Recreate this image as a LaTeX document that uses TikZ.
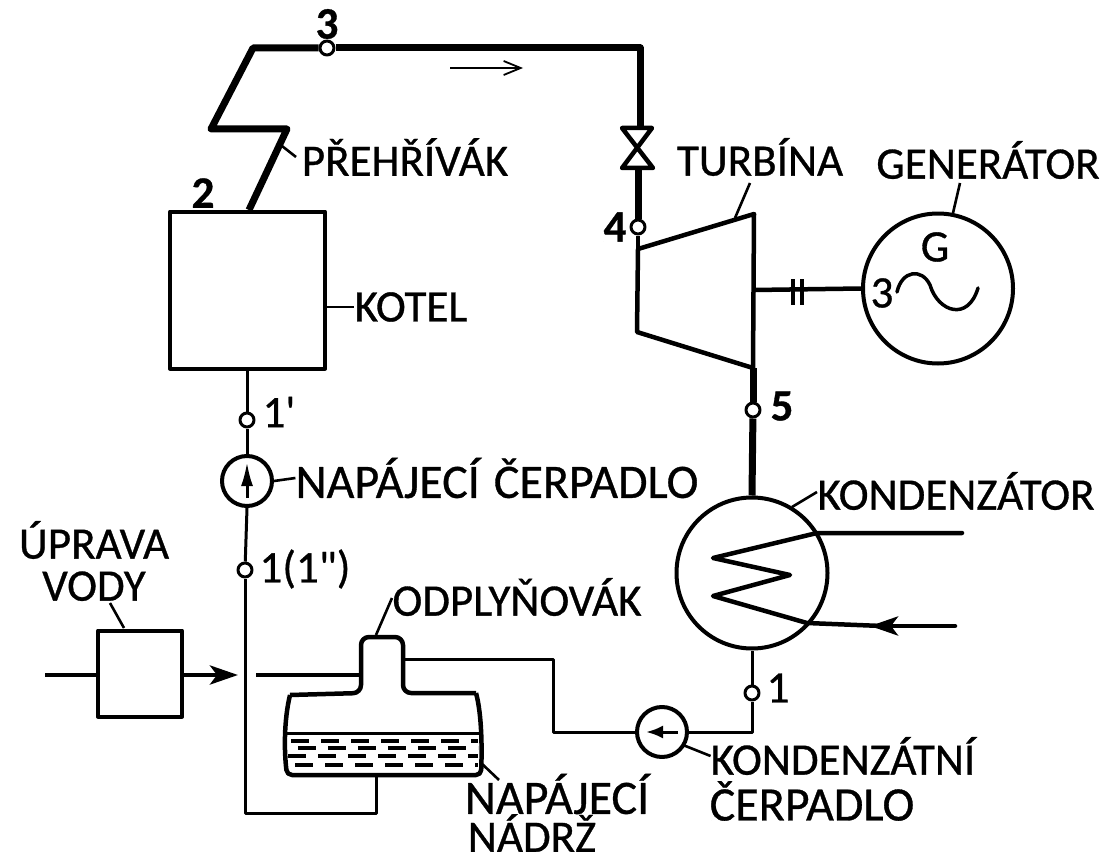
\documentclass[tikz,border=0pt]{standalone}
\usepackage{fontspec}
\setmainfont{Carlito}[FakeBold=0.7]
\usetikzlibrary{arrows.meta,calc}

\begin{document}
\begin{tikzpicture}[x=1pt,y=-1pt,line join=round,
  font=\fontsize{45}{50}\selectfont,
  lb/.style={inner sep=0pt},
  lg/.style={inner sep=0pt,font=\fontsize{48}{50}\selectfont},
  nr/.style={inner sep=0pt,font=\fontsize{45}{50}\selectfont\bfseries},
  tn/.style={line width=3pt},
  md/.style={line width=4.5pt},
  hv/.style={line width=7pt},
  ld/.style={line width=2.6pt},
  pt/.style={draw,circle,fill=white,line width=3pt,minimum size=14pt,inner sep=0pt},
  bx/.style={draw,rectangle,line width=4pt,inner sep=0pt},
  rd/.style={draw,circle,line width=4pt,inner sep=0pt},
  ah/.style={-{Stealth[length=28pt,width=19pt,inset=7pt]}},
  wt/.style={line width=3.2pt,dash pattern=on 18pt off 12pt}]
\useasboundingbox (0,0) rectangle (1117,856);

% kotel a prehrivak
\node[bx,minimum width=155pt,minimum height=157pt] (kotel) at (247.5,290) {};
\node[pt] (p3) at (327,48) {};
\coordinate (a1) at (249,210);
\coordinate (a2) at (287,129);
\coordinate (a3) at (211,129);
\coordinate (a4) at (253,48);
\coordinate (a5) at (640,48);
\draw[hv] (a1) -- (a2) -- (a3) -- (a4) -- (p3);
\draw[hv] (p3) -- (a5) -- (640,128);
\coordinate (s1) at (450,68);
\coordinate (s2) at (523,68);
\draw[line width=1.8pt,-{Straight Barb[length=17pt,width=14pt]}] (s1) -- (s2);

% ventil a turbina
\coordinate (v1) at (622,128);
\coordinate (v2) at (652,128);
\coordinate (v3) at (622,168);
\coordinate (v4) at (653,168);
\draw[md] (v1) -- (v2) -- (v3) -- (v4) -- cycle;
\node[pt] (p4) at (638,227) {};
\draw[hv] (638,168) -- (p4);
\coordinate (t1) at (638,249);
\coordinate (t2) at (754,214);
\coordinate (t3) at (753,368);
\coordinate (t4) at (637,332);
\draw[md] (t1) -- (t2) -- (t3) -- (t4) -- cycle;
\draw[md] (p4) -- (t1);

% generator
\node[rd,minimum size=150pt] (gen) at (938,288.5) {};
\coordinate (h1) at (754,290);
\draw[md] (h1) -- (gen.west);
\draw[line width=4.5pt] (793,279) -- (793,305) (802,279) -- (802,305);
\draw[line width=3.5pt,line cap=round] (897,292) .. controls (902,270) and (922,268) .. (930,285)
  .. controls (938,312) and (968,322) .. (978,288);
\node[lb] (gg) at (935,247) {G};
\node[lb] (g3) at (882,293) {3};

% kondenzator
\node[rd,minimum size=151pt] (kond) at (752,573) {};
\node[pt] (p5) at (753,410) {};
\draw[hv] (t3) -- (p5);
\draw[hv] (p5) -- (kond.north);
\coordinate (c1) at (962,533);
\coordinate (c2) at (817,533);
\coordinate (c3) at (713,558);
\coordinate (c4) at (790,575);
\coordinate (c5) at (713,596);
\coordinate (c6) at (807,623);
\coordinate (c7) at (955,626);
\coordinate (c8) at (870,626);
\coordinate (c9) at (882,626);
\draw[md,line cap=round] (c1) -- (c2) -- (c3) -- (c4) -- (c5) -- (c6) -- (c9);
\draw[md,line cap=round,ah] (c7) -- (c8);

% kondenzatni cerpadlo
\node[pt] (p1) at (752,693) {};
\node[rd,minimum size=50pt] (kc) at (662,732) {};
\coordinate (k1) at (752,732);
\coordinate (k2) at (553,732);
\coordinate (k3) at (553,659);
\draw[tn] (kond.south) -- (p1);
\draw[tn] (p1) -- (k1) -- (kc.east);
\coordinate (ki) at (678,732);
\coordinate (ko) at (646,732);
\draw[tn,-{Latex[length=17pt,width=13pt]}] (ki) -- (ko);

% odplynovak a nadrz
\coordinate (d1) at (361,693);
\coordinate (d2) at (403,693);
\draw[md,rounded corners=8pt] (290,695) -- (d1) -- (361,637) -- (403,637) -- (d2) -- (476,693);
\draw[md,rounded corners=5pt] (476,693) .. controls (482,715) and (482,750) .. (481,775) -- (287,775)
  .. controls (284,750) and (284,720) .. (290,695);
\draw[tn] (285,733) -- (482,733);
\foreach \ya/\xa in {741/291,748/298,756/288,765/295}
  \draw[wt] (\xa,\ya) -- (478,\ya);
\coordinate (n1) at (376,775);
\coordinate (n2) at (376,813);
\coordinate (n3) at (245,813);
\coordinate (j1) at (403,659);
\draw[tn] (kc.west) -- (k2) -- (k3) -- (j1);

% napajeci vetev
\node[pt] (p1b) at (245,570) {};
\node[rd,minimum size=50pt] (nc) at (247,481) {};
\node[pt] (p1a) at (247,420) {};
\draw[tn] (n1) -- (n2) -- (n3) -- (p1b);
\draw[tn] (p1b) -- (nc.south);
\draw[tn] (nc.north) -- (p1a);
\draw[tn] (p1a) -- (247,368.5);
\coordinate (ni) at (247,498);
\coordinate (no) at (247,462);
\draw[tn,-{Latex[length=24pt,width=12pt]}] (ni) -- (no);

% uprava vody
\node[bx,minimum width=84pt,minimum height=86pt] (upr) at (140,673.5) {};
\coordinate (u1) at (45,675);
\coordinate (u2) at (238,675);
\coordinate (u3) at (256,675);
\draw[md] (u1) -- (upr.west |- u1);
\draw[md,ah] (upr.east |- u2) -- (u2);
\draw[md] (u3) -- (d1 |- u3);

% popisky
\node[nr] (n3a) at (327,24) {3};
\node[nr] (n2a) at (203,193) {2};
\node[nr] (n4a) at (615,227) {4};
\node[nr] (n5a) at (782,406) {5};
\node[lb] (n1c) at (778,688) {1};
\node[lb] (n1a) at (279,412) {1\textquotesingle};
\node[lb] (n1b) at (305,569) {1(1\textquotedbl)};
\node[lb] (prh) at (405,157) {PŘEHŘÍVÁK};
\node[lb] (tur) at (760,157) {TURBÍNA};
\node[lb] (gnr) at (988,160) {GENERÁTOR};
\node[lb] (kot) at (411,307) {KOTEL};
\node[lg] (ncp) at (497,478) {NAPÁJECÍ\hspace{14pt}ČERPADLO};
\node[lb] (knd) at (956,491) {KONDENZÁTOR};
\node[lb,align=center,font=\fontsize{45}{42}\selectfont] (uvo) at (94,561) {ÚPRAVA\\VODY};
\node[lb] (odp) at (517,597) {ODPLYŇOVÁK};
\node[lb] (kcr) at (843,756) {KONDENZÁTNÍ};
\node[lg] (kcb) at (812,801) {ČERPADLO};
\node[lg] (nnp) at (557,794) {NAPÁJECÍ};
\node[lb] (nnd) at (532,833) {NÁDRŽ};

% odkazy
\draw[ld] (282,146) -- (296,157);
\draw[ld] (750,183) -- (735,218);
\draw[ld] (960,183) -- (953,213);
\draw[ld] (kotel.east |- kot) -- (kot.west);
\draw[ld] (nc.east) -- (ncp.west);
\draw[ld] (817,492) -- (792,507);
\draw[ld] (110,603) -- (124,628);
\draw[ld] (392,598) -- (376,635);
\draw[ld] (683,745) -- (kcr.west);
\draw[ld] (480,762) -- (499,780);
\end{tikzpicture}
\end{document}
